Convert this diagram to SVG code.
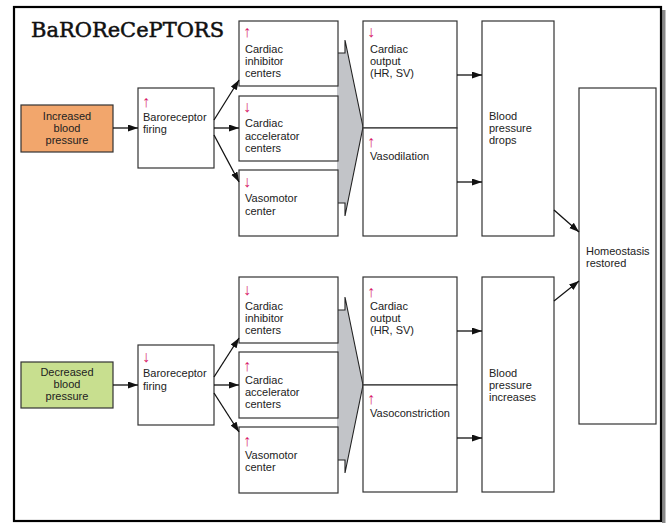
<svg xmlns="http://www.w3.org/2000/svg" width="668" height="523" viewBox="0 0 668 523">
<defs>
<style>
.box{fill:#fff;stroke:#333;stroke-width:1.2}
.t{font-family:"Liberation Sans",Arial,sans-serif;font-size:11px;fill:#222}
.m{text-anchor:middle}
.ar{font-family:"Liberation Sans","DejaVu Sans",sans-serif;font-size:16px;font-weight:bold;fill:#d81e6a;text-anchor:middle}
.c{fill:none;stroke:#111;stroke-width:1.3;marker-end:url(#ah)}
.big{fill:#c2c4c8;stroke:none}
.bigl{fill:none;stroke:#222;stroke-width:1.1}
</style>
<marker id="ah" markerUnits="userSpaceOnUse" markerWidth="11" markerHeight="8" refX="10" refY="3.5" orient="auto">
<path d="M0,0 L10,3.5 L0,7 z" fill="#111"/>
</marker>
</defs>
<rect x="662" y="10" width="3.5" height="513" fill="#888"/>
<rect x="14" y="7" width="647" height="514" fill="#fff" stroke="#000" stroke-width="2.2"/>
<text x="31" y="37" font-family="DejaVu Serif,serif" font-size="20" textLength="193" lengthAdjust="spacingAndGlyphs" fill="#111" stroke="#111" stroke-width="0.5">BaROReCePTORS</text>

<g id="bigarrows">
<polygon class="big" points="337,53 345,53 345,40 363,127 345,216 345,203 337,203"/>
<polyline class="bigl" points="338,53 345,53 345,40 363,127 345,216 345,203 338,203"/>
<polygon class="big" points="337,310 345,310 345,297 363,385 345,473 345,460 337,460"/>
<polyline class="bigl" points="338,310 345,310 345,297 363,385 345,473 345,460 338,460"/>
</g>

<g id="n_inc"><rect x="21" y="105" width="92" height="47" fill="#f2a66c" stroke="#333" stroke-width="1.2"/>
<text class="t m" x="67" y="120">Increased<tspan x="67" y="132">blood</tspan><tspan x="67" y="144">pressure</tspan></text></g>
<g id="n_baro1"><rect class="box" x="138" y="88" width="76" height="80"/>
<text class="ar" x="146" y="107">↑</text>
<text class="t" x="143" y="121">Baroreceptor<tspan x="143" y="133">firing</tspan></text></g>
<g id="n_ci1"><rect class="box" x="239" y="21" width="99" height="65"/>
<text class="ar" x="247" y="37">↑</text>
<text class="t" x="245" y="53">Cardiac<tspan x="245" y="65">inhibitor</tspan><tspan x="245" y="77">centers</tspan></text></g>
<g id="n_ca1"><rect class="box" x="239" y="96" width="99" height="65"/>
<text class="ar" x="247" y="112">↓</text>
<text class="t" x="245" y="127">Cardiac<tspan x="245" y="140">accelerator</tspan><tspan x="245" y="152">centers</tspan></text></g>
<g id="n_vm1"><rect class="box" x="239" y="170" width="99" height="66"/>
<text class="ar" x="247" y="187">↓</text>
<text class="t" x="245" y="202">Vasomotor<tspan x="245" y="215">center</tspan></text></g>
<g id="n_co1"><rect class="box" x="363" y="21" width="94" height="107"/>
<text class="ar" x="371" y="37">↓</text>
<text class="t" x="370" y="53">Cardiac<tspan x="370" y="65">output</tspan><tspan x="370" y="77">(HR, SV)</tspan></text></g>
<g id="n_vd1"><rect class="box" x="363" y="128" width="94" height="108"/>
<text class="ar" x="371" y="147">↑</text>
<text class="t" x="370" y="160">Vasodilation</text></g>
<g id="n_bpd"><rect class="box" x="482" y="21" width="72" height="215"/>
<text class="t" x="489" y="120">Blood<tspan x="489" y="132">pressure</tspan><tspan x="489" y="144">drops</tspan></text></g>
<g id="n_home"><rect class="box" x="579" y="88" width="77" height="336"/>
<text class="t" x="586" y="255">Homeostasis<tspan x="586" y="267">restored</tspan></text></g>

<g id="n_dec"><rect x="21" y="362" width="92" height="46" fill="#c8df8f" stroke="#333" stroke-width="1.2"/>
<text class="t m" x="67" y="376">Decreased<tspan x="67" y="388">blood</tspan><tspan x="67" y="400">pressure</tspan></text></g>
<g id="n_baro2"><rect class="box" x="138" y="345" width="76" height="80"/>
<text class="ar" x="146" y="362">↓</text>
<text class="t" x="143" y="377">Baroreceptor<tspan x="143" y="390">firing</tspan></text></g>
<g id="n_ci2"><rect class="box" x="239" y="277" width="99" height="66"/>
<text class="ar" x="247" y="295">↓</text>
<text class="t" x="245" y="310">Cardiac<tspan x="245" y="322">inhibitor</tspan><tspan x="245" y="334">centers</tspan></text></g>
<g id="n_ca2"><rect class="box" x="239" y="352" width="99" height="66"/>
<text class="ar" x="247" y="371">↑</text>
<text class="t" x="245" y="384">Cardiac<tspan x="245" y="396">accelerator</tspan><tspan x="245" y="408">centers</tspan></text></g>
<g id="n_vm2"><rect class="box" x="239" y="427" width="99" height="66"/>
<text class="ar" x="247" y="446">↑</text>
<text class="t" x="245" y="459">Vasomotor<tspan x="245" y="471">center</tspan></text></g>
<g id="n_co2"><rect class="box" x="363" y="277" width="94" height="108"/>
<text class="ar" x="371" y="297">↑</text>
<text class="t" x="370" y="310">Cardiac<tspan x="370" y="322">output</tspan><tspan x="370" y="334">(HR, SV)</tspan></text></g>
<g id="n_vc2"><rect class="box" x="363" y="385" width="94" height="107"/>
<text class="ar" x="371" y="404">↑</text>
<text class="t" x="370" y="417">Vasoconstriction</text></g>
<g id="n_bpi"><rect class="box" x="482" y="277" width="72" height="215"/>
<text class="t" x="489" y="377">Blood<tspan x="489" y="389">pressure</tspan><tspan x="489" y="401">increases</tspan></text></g>

<g id="connectors">
<line class="c" x1="113" y1="128" x2="138" y2="128"/>
<line class="c" x1="214" y1="120" x2="239" y2="80"/>
<line class="c" x1="214" y1="128" x2="239" y2="128"/>
<line class="c" x1="214" y1="135" x2="239" y2="182"/>
<line class="c" x1="457" y1="75" x2="482" y2="75"/>
<line class="c" x1="457" y1="182" x2="482" y2="182"/>
<line class="c" x1="554" y1="210" x2="579" y2="232"/>
<line class="c" x1="113" y1="385" x2="138" y2="385"/>
<line class="c" x1="214" y1="377" x2="239" y2="338"/>
<line class="c" x1="214" y1="385" x2="239" y2="385"/>
<line class="c" x1="214" y1="393" x2="239" y2="432"/>
<line class="c" x1="457" y1="331" x2="482" y2="331"/>
<line class="c" x1="457" y1="438" x2="482" y2="438"/>
<line class="c" x1="554" y1="301" x2="579" y2="281"/>
</g>
</svg>
